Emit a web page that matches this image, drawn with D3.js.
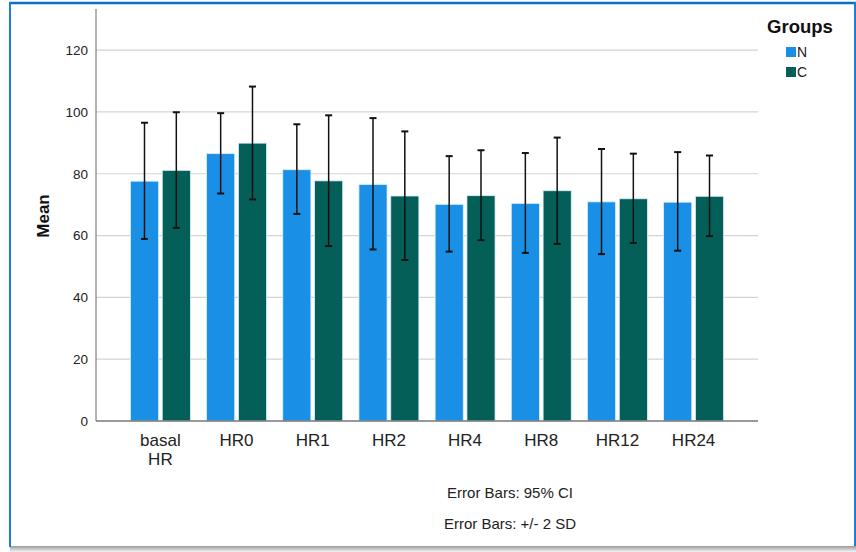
<!DOCTYPE html>
<html>
<head>
<meta charset="utf-8">
<script src="https://cdn.jsdelivr.net/npm/d3@7"></script>
<style>
  body { margin: 0; background: #fff; }
  svg { display: block; font-family: "Liberation Sans", Arial, sans-serif; }
</style>
</head>
<body>
<div id="chart"></div>
<script>
// values
var categories = ["basal HR", "HR0", "HR1", "HR2", "HR4", "HR8", "HR12", "HR24"];
var groups = ["N", "C"];
var nMean = [77.6, 86.5, 81.3, 76.5, 70.1, 70.4, 70.9, 70.8];
var cMean = [81.1, 89.9, 77.7, 72.8, 72.9, 74.5, 71.9, 72.7];
var nLow = [58.9, 73.6, 67.0, 55.5, 54.8, 54.4, 54.0, 55.1];
var nHigh = [96.5, 99.6, 96.0, 98.0, 85.7, 86.7, 88.0, 87.0];
var cLow = [62.5, 71.7, 56.6, 52.1, 58.5, 57.3, 57.6, 59.8];
var cHigh = [99.9, 108.2, 98.9, 93.7, 87.6, 91.7, 86.5, 85.9];
var yTicks = [0, 20, 40, 60, 80, 100, 120];
var footnotes = ["Error Bars: 95% CI", "Error Bars: +/- 2 SD"];

var colors = { N: "#1a8fe6", C: "#045f59" };

var W = 856, H = 552;
var plotLeft = 96, plotRight = 758, plotTop = 9, plotBottom = 421;

var svg = d3.select("#chart").append("svg")
  .attr("width", W)
  .attr("height", H);

// frame: blue border with grey shadow at the bottom
var defs = svg.append("defs");
var grad = defs.append("linearGradient")
  .attr("id", "shadow")
  .attr("x1", 0).attr("y1", 0).attr("x2", 0).attr("y2", 1);
grad.append("stop").attr("offset", "0%").attr("stop-color", "#9a9a9a");
grad.append("stop").attr("offset", "100%").attr("stop-color", "#f4f4f4");

svg.append("rect")
  .attr("x", 10).attr("y", 546)
  .attr("width", W - 10).attr("height", 6)
  .attr("fill", "url(#shadow)");
svg.append("line")
  .attr("x1", 9).attr("x2", W).attr("y1", 3).attr("y2", 3)
  .attr("stroke", "#0a6fc2").attr("stroke-width", 2.5);
svg.append("line")
  .attr("x1", 10).attr("x2", 10).attr("y1", 2).attr("y2", 547)
  .attr("stroke", "#1a7fd6").attr("stroke-width", 2);
svg.append("line")
  .attr("x1", 855).attr("x2", 855).attr("y1", 2).attr("y2", 546)
  .attr("stroke", "#1a7fd6").attr("stroke-width", 2);

// scales
var y = d3.scaleLinear()
  .domain([0, 133.3])
  .range([plotBottom, plotTop]);

var x0 = d3.scaleBand()
  .domain(categories)
  .range([plotLeft, plotRight])
  .paddingInner(0.213)
  .paddingOuter(0.452);

var x1 = d3.scaleBand()
  .domain(groups)
  .range([0, x0.bandwidth()])
  .paddingInner(0.116)
  .paddingOuter(0);

// gridlines
svg.append("g")
  .selectAll("line")
  .data(yTicks.filter(function (d) { return d > 0; }))
  .enter()
  .append("line")
  .attr("x1", plotLeft).attr("x2", plotRight)
  .attr("y1", function (d) { return y(d); })
  .attr("y2", function (d) { return y(d); })
  .attr("stroke", "#d4d4d4")
  .attr("stroke-width", 1.2);

// y axis (labels only, plain line)
var yAxis = svg.append("g")
  .attr("transform", "translate(" + plotLeft + ",0)")
  .call(d3.axisLeft(y).tickValues(yTicks).tickSize(0).tickPadding(8));
yAxis.select(".domain").remove();
yAxis.selectAll("text")
  .style("font-size", "13.5px")
  .style("font-family", "Liberation Sans, Arial, sans-serif")
  .attr("fill", "#222");

svg.append("line")
  .attr("x1", plotLeft).attr("x2", plotLeft)
  .attr("y1", plotTop).attr("y2", plotBottom)
  .attr("stroke", "#8a8a8a").attr("stroke-width", 1.3);

// rows of data per category
var rows = categories.map(function (c, i) {
  return {
    cat: c,
    vals: [
      { g: "N", mean: nMean[i], lo: nLow[i], hi: nHigh[i] },
      { g: "C", mean: cMean[i], lo: cLow[i], hi: cHigh[i] }
    ]
  };
});

var cat = svg.append("g")
  .selectAll("g")
  .data(rows)
  .enter()
  .append("g")
  .attr("transform", function (d) { return "translate(" + x0(d.cat) + ",0)"; });

// bars
cat.selectAll("rect")
  .data(function (d) { return d.vals; })
  .enter()
  .append("rect")
  .attr("x", function (d) { return x1(d.g); })
  .attr("y", function (d) { return y(d.mean); })
  .attr("width", x1.bandwidth())
  .attr("height", function (d) { return y(0) - y(d.mean); })
  .attr("fill", function (d) { return colors[d.g]; })
  .attr("stroke", "#d8f0ff")
  .attr("stroke-width", 0.8);

// error bars
var err = cat.selectAll("g.err")
  .data(function (d) { return d.vals; })
  .enter()
  .append("g")
  .attr("class", "err")
  .attr("stroke", "#111")
  .attr("stroke-width", 1.5);

err.append("line")
  .attr("x1", function (d) { return x1(d.g) + x1.bandwidth() / 2; })
  .attr("x2", function (d) { return x1(d.g) + x1.bandwidth() / 2; })
  .attr("y1", function (d) { return y(d.lo); })
  .attr("y2", function (d) { return y(d.hi); });

err.selectAll("line.cap")
  .data(function (d) { return [d.lo, d.hi].map(function (v) { return { g: d.g, v: v }; }); })
  .enter()
  .append("line")
  .attr("class", "cap")
  .attr("x1", function (d) { return x1(d.g) + x1.bandwidth() / 2 - 3.5; })
  .attr("x2", function (d) { return x1(d.g) + x1.bandwidth() / 2 + 3.5; })
  .attr("y1", function (d) { return y(d.v); })
  .attr("y2", function (d) { return y(d.v); })
  .attr("stroke-width", 2);

// x axis line
svg.append("line")
  .attr("x1", plotLeft).attr("x2", plotRight)
  .attr("y1", plotBottom).attr("y2", plotBottom)
  .attr("stroke", "#777").attr("stroke-width", 1.5);

// x labels (basal HR on two lines)
var xl = svg.append("g")
  .selectAll("text")
  .data(categories)
  .enter()
  .append("text")
  .attr("x", function (d) { return x0(d) + x0.bandwidth() / 2; })
  .attr("y", 446)
  .attr("text-anchor", "middle")
  .style("font-size", "17px")
  .attr("fill", "#222");
xl.selectAll("tspan")
  .data(function (d) { return d.split(" "); })
  .enter()
  .append("tspan")
  .attr("x", function () { return this.parentNode.getAttribute("x"); })
  .attr("dy", function (d, i) { return i === 0 ? 0 : 18.5; })
  .text(function (d) { return d; });

// y title
svg.append("text")
  .attr("transform", "translate(49," + 216 + ")rotate(-90)")
  .attr("text-anchor", "middle")
  .style("font-size", "17px")
  .style("font-weight", "bold")
  .attr("fill", "#111")
  .text("Mean");

// legend
svg.append("text")
  .attr("x", 800).attr("y", 33)
  .attr("text-anchor", "middle")
  .style("font-size", "18.5px")
  .style("font-weight", "bold")
  .attr("fill", "#111")
  .text("Groups");

var leg = svg.append("g")
  .selectAll("g")
  .data(groups)
  .enter()
  .append("g")
  .attr("transform", function (d, i) { return "translate(786," + (47 + i * 20) + ")"; });
leg.append("rect")
  .attr("width", 10).attr("height", 10)
  .attr("fill", function (d) { return colors[d]; });
leg.append("text")
  .attr("x", 11).attr("y", 10)
  .style("font-size", "14px")
  .attr("fill", "#222")
  .text(function (d) { return d; });

// footnotes
svg.append("g")
  .selectAll("text")
  .data(footnotes)
  .enter()
  .append("text")
  .attr("x", 510)
  .attr("y", function (d, i) { return 498 + i * 31; })
  .attr("text-anchor", "middle")
  .style("font-size", "15px")
  .attr("fill", "#222")
  .text(function (d) { return d; });
</script>
</body>
</html>
